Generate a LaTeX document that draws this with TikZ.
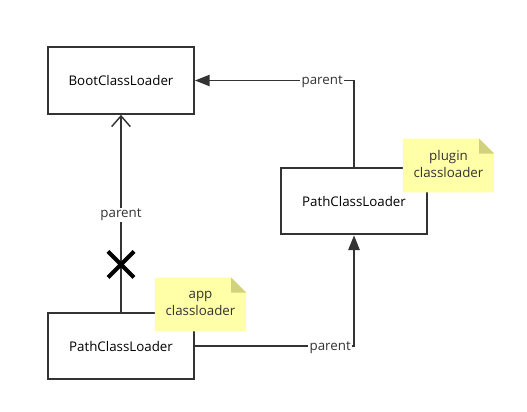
\documentclass[tikz,border=0pt]{standalone}
\usepackage{fontspec}
\setmainfont{Open Sans}
\usetikzlibrary{arrows.meta,positioning}
\definecolor{noteyellow}{HTML}{FFFFA8}
\definecolor{notefold}{HTML}{D2D27E}
\definecolor{linegray}{HTML}{333333}
\begin{document}
\begin{tikzpicture}[x=0.75pt,y=-0.75pt,font=\fontsize{10}{12.5}\selectfont,
  loader/.style={draw=linegray,line width=1.5pt,fill=white,minimum width=109.5pt,minimum height=50pt,inner sep=0pt,text depth=0pt},
  notebox/.style={minimum width=68pt,minimum height=40pt,inner sep=0pt,align=center},
  link/.style={draw=linegray,line width=1.1pt},
  lbl/.style={fill=white,inner sep=1pt,text=linegray,yshift=-1.2pt}]
\useasboundingbox (0,0) rectangle (527,411);
\node[loader] (boot) at (121,80.5) {BootClassLoader};
\node[loader] (plugin) at (354,201) {PathClassLoader};
\node[loader] (app) at (121,346) {PathClassLoader};
\node[notebox] (pluginnote) at (448.5,165.5) {};
\node[notebox] (appnote) at (200.5,304.5) {};
\fill[noteyellow] (pluginnote.north west) -- ([xshift=-11.25pt]pluginnote.north east) -- ([yshift=-11.25pt]pluginnote.north east) -- (pluginnote.south east) -- (pluginnote.south west) -- cycle;
\fill[notefold] ([xshift=-11.25pt]pluginnote.north east) -- ([yshift=-11.25pt]pluginnote.north east) -- ([xshift=-11.25pt,yshift=-11.25pt]pluginnote.north east) -- cycle;
\node[align=center,text=linegray] at ([yshift=1pt]pluginnote.center) {plugin\\classloader};
\fill[noteyellow] (appnote.north west) -- ([xshift=-11.25pt]appnote.north east) -- ([yshift=-11.25pt]appnote.north east) -- (appnote.south east) -- (appnote.south west) -- cycle;
\fill[notefold] ([xshift=-11.25pt]appnote.north east) -- ([yshift=-11.25pt]appnote.north east) -- ([xshift=-11.25pt,yshift=-11.25pt]appnote.north east) -- cycle;
\node[align=center,text=linegray] at ([yshift=1pt]appnote.center) {app\\classloader};
\draw[link,-{Straight Barb[length=8pt,width=14pt]}] (app.north) -- node[lbl,pos=.5] {parent} coordinate[pos=.24] (cut) (boot.south);
\draw[link,-{Triangle[length=11pt,width=8.5pt]}] (app.east) -| node[lbl,pos=.425] {parent} (plugin.south);
\draw[link,-{Triangle[length=11pt,width=8.5pt]}] (plugin.north) |- node[lbl,pos=.6] {parent} (boot.east);
\draw[line width=3pt] ([shift={(-13,-13)}]cut) -- ([shift={(13,13)}]cut) ([shift={(-13,13)}]cut) -- ([shift={(13,-13)}]cut);
\end{tikzpicture}
\end{document}
